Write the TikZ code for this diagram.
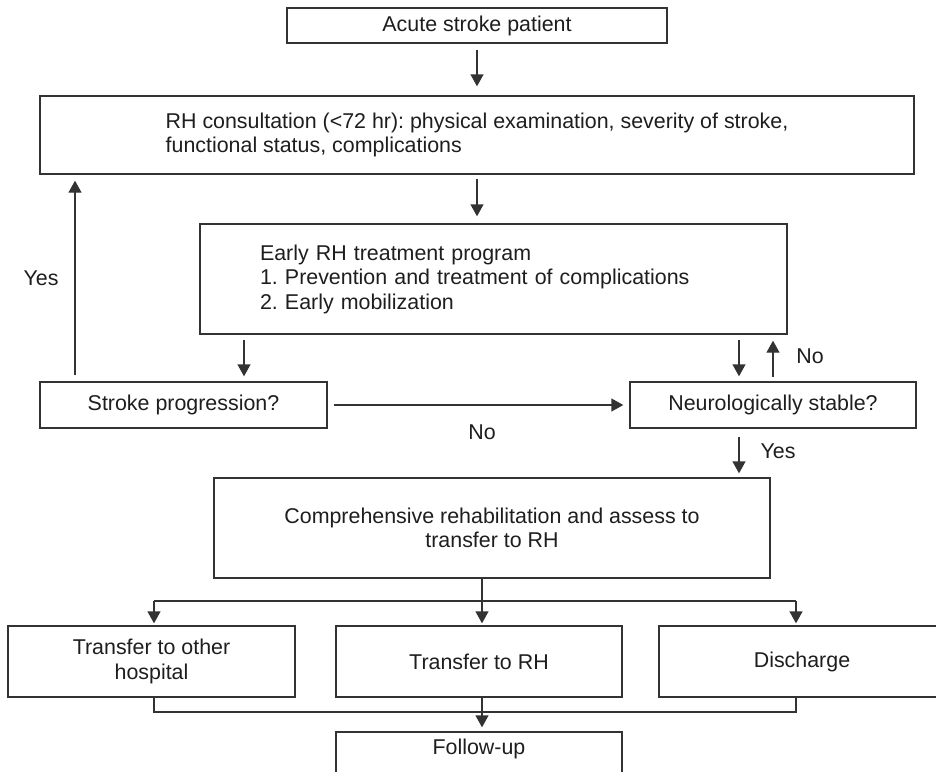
\documentclass[tikz,border=0pt]{standalone}
\usepackage{fontspec}
\setmainfont{Liberation Sans}
\usetikzlibrary{arrows.meta}
\definecolor{lncol}{HTML}{333333}
\definecolor{txcol}{HTML}{1E1E1E}
\frenchspacing
\begin{document}
\begin{tikzpicture}[x=1pt,y=-1pt,
  box/.style={draw=lncol,line width=1.4pt,text=txcol,font=\fontsize{21.4}{24.5}\selectfont,inner sep=0pt,align=center},
  arr/.style={draw=lncol,line width=1.4pt,-{Triangle[length=12pt,width=13pt]}},
  conn/.style={draw=lncol,line width=1.4pt},
  lbl/.style={text=txcol,font=\fontsize{21.4}{24.5}\selectfont,inner sep=0pt}]
\useasboundingbox (0,0) rectangle (936,771);
\fill[white] (0,0) rectangle (936,771);
\clip (0,0) rectangle (936,771);

% boxes
\node[box,minimum width=380pt,minimum height=35pt] (acute) at (477,25.5) {Acute stroke patient};
\node[box,align=left,minimum width=874pt,minimum height=78pt] (rhc) at (477,135)
  {RH consultation (<72 hr): physical examination, severity of stroke,\\functional status, complications};
\node[box,align=left,text width=467pt,inner xsep=60pt,minimum height=110pt] (early) at (493.5,279)
  {Early RH treatment program\\1. Prevention and treatment of complications\\2. Early mobilization};
\node[box,minimum width=287pt,minimum height=46pt] (stroke) at (183.5,405) {Stroke progression?};
\node[box,minimum width=286pt,minimum height=46pt] (neuro) at (773,405) {Neurologically stable?};
\node[box,minimum width=556pt,minimum height=100pt] (comp) at (492,528)
  {Comprehensive rehabilitation and assess to\\transfer to RH};
\node[box,minimum width=287pt,minimum height=71pt] (b1) at (151.5,661.5) {Transfer to other\\hospital};
\node[box,minimum width=286pt,minimum height=71pt] (b2) at (479,661.5) {Transfer to RH};
\node[box,minimum width=286pt,minimum height=71pt] (b3) at (802,661.5) {Discharge};
\node[box,minimum width=286pt,minimum height=42pt] (fu) at (479,753) {};
\node[lbl] (fut) at (479,749) {Follow-up};

% column coordinates
\coordinate (c75) at (75,0);
\coordinate (c244) at (244,0);
\coordinate (c739) at (739,0);
\coordinate (c773) at (773,0);
\coordinate (sL) at (154,601);
\coordinate (sC) at (482,601);
\coordinate (sR) at (796,601);
\coordinate (jL) at (154,712);
\coordinate (jC) at (482,712);
\coordinate (jR) at (796,712);

% connectors
\draw[arr,shorten <=6pt,shorten >=9pt] (acute.south) -- (rhc.north);
\draw[arr,shorten <=4pt,shorten >=7pt] (rhc.south) -- (rhc.south |- early.north);
\draw[arr,shorten <=5pt,shorten >=5pt] (early.south -| c244) -- (stroke.north -| c244);
\draw[arr,shorten <=5pt,shorten >=5pt] (early.south -| c739) -- (neuro.north -| c739);
\draw[arr,shorten <=4pt,shorten >=6pt] (neuro.north -| c773) -- (early.south -| c773);
\draw[arr,shorten <=6pt,shorten >=6pt] (stroke.north -| c75) -- (rhc.south -| c75);
\draw[arr,shorten <=6pt,shorten >=6pt] (stroke.east) -- (neuro.west);
\draw[arr,shorten <=8pt,shorten >=4pt] (neuro.south -| c739) -- (comp.north -| c739);

\draw[conn] (comp.south -| sC) -- (sC);
\draw[conn] (sL) -- (sR);
\draw[arr,shorten >=2pt] (sL) -- (sL |- b1.north);
\draw[arr,shorten >=2pt] (sC) -- (sC |- b2.north);
\draw[arr,shorten >=2pt] (sR) -- (sR |- b3.north);

\draw[conn] (b1.south -| jL) -- (jL) -- (jR) -- (b3.south -| jR);
\draw[arr,shorten >=4pt] (b2.south -| jC) -- (fu.north -| jC);

% labels
\node[lbl] (yes1) at (41,278) {Yes};
\node[lbl] (no1) at (810,356) {No};
\node[lbl] (no2) at (482,432) {No};
\node[lbl] (yes2) at (778,451) {Yes};
\end{tikzpicture}
\end{document}
